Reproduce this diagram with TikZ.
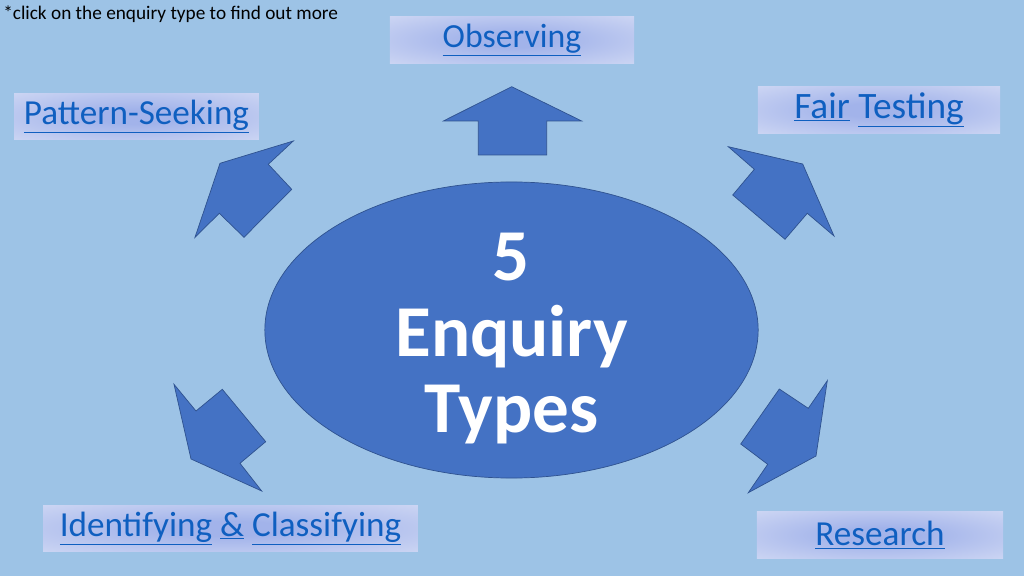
\documentclass[tikz,border=0pt]{standalone}
\usepackage{fontspec}
\setmainfont{Carlito}
\usepackage{tikz}
\usetikzlibrary{shapes.geometric}

\definecolor{bgblue}{HTML}{9DC3E6}
\definecolor{coreblue}{HTML}{4472C4}
\definecolor{edgeblue}{HTML}{2F528F}
\definecolor{linkblue}{HTML}{0F5FC0}
\definecolor{boxmid}{HTML}{A2B3EA}
\definecolor{boxrim}{HTML}{DEE4F7}

\pgfdeclareradialshading{boxglow}{\pgfpoint{0bp}{0bp}}{%
  color(0bp)=(boxmid); color(8bp)=(boxmid); color(30bp)=(boxmid!45!boxrim);
  color(48bp)=(boxrim); color(50bp)=(boxrim)}

\begin{document}
\begin{tikzpicture}[x=0.025cm,y=-0.025cm]
\tikzstyle{linkbox}=[rectangle,shading=boxglow,minimum height=1.16cm,inner sep=0pt,text=linkblue,font=\fontsize{25}{28}\selectfont]
\tikzstyle{blockarrow}=[fill=coreblue,draw=edgeblue,line width=0.5pt,line join=miter]

\useasboundingbox (0,0) rectangle (1024,576);
\fill[bgblue] (0,0) rectangle (1024,576);

\node[anchor=north west,inner sep=0pt,font=\fontsize{13.7}{16}\selectfont] (note) at (3,6) {*click on the enquiry type to find out more};

\node[ellipse,fill=coreblue,draw=edgeblue,line width=0.5pt,inner xsep=0pt,inner ysep=-20pt,minimum width=12.33cm,minimum height=7.4cm,
  text=white,align=center,font=\bfseries\fontsize{52}{54}\selectfont] (core) at (511.5,330) {\rule{0pt}{46pt}5\\Enquiry\\Types};

\node[linkbox,minimum width=6.1cm,font=\fontsize{24}{28}\selectfont] (obs) at (512,40) {\underline{Observing}};
\node[linkbox,minimum width=6.12cm] (pat) at (136.5,116.5) {\underline{Pattern-Seeking}};
\node[linkbox,minimum width=6.05cm,font=\fontsize{26.5}{28}\selectfont] (fair) at (879,110) {\underline{Fair} \underline{Testing}};
\node[linkbox,minimum width=9.37cm] (ident) at (230.5,528.5) {\underline{Identifying} \underline{\&} \underline{Classifying}};
\node[linkbox,minimum width=6.15cm] (res) at (880,535) {\underline{Research}};

% arrows round the ellipse
\draw[blockarrow] (511.7,86.7) -- (443.3,121) -- (478.3,121) -- (478.3,155) -- (546.7,155) -- (546.7,121) -- (581.7,121) -- cycle;
\draw[blockarrow] (293.3,141) -- (220,163.3) -- (195,237.3) -- (219.3,213.3) -- (244,237.3) -- (291.7,189.3) -- (268.3,164.3) -- cycle;
\draw[blockarrow] (728.3,146.7) -- (802.7,164) -- (834,236) -- (807.3,213.3) -- (785,239.3) -- (732.7,195) -- (754.3,169.3) -- cycle;
\draw[blockarrow] (174,384.3) -- (196,411) -- (222.3,389.3) -- (265.7,441.7) -- (240,463.3) -- (261.7,491) -- (191,459) -- cycle;
\draw[blockarrow] (827.3,380.7) -- (808.3,408.3) -- (779.3,389) -- (740.7,444) -- (767.7,464.3) -- (748.3,492.7) -- (816,456) -- cycle;

\end{tikzpicture}
\end{document}
